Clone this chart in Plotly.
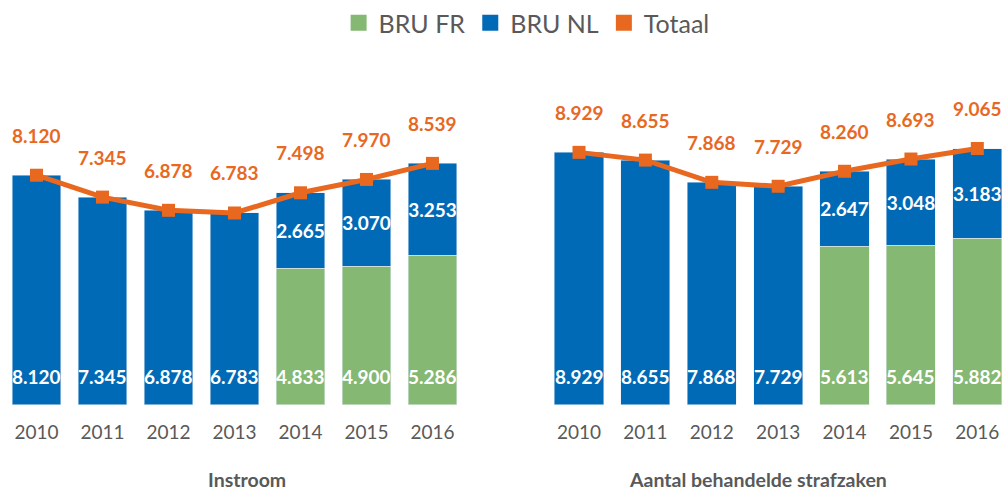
import plotly.graph_objects as go

# ---- data ----
years = ["2010", "2011", "2012", "2013", "2014", "2015", "2016"]

# Instroom
instroom_bru = [8120, 7345, 6878, 6783, None, None, None]   # not split by language
instroom_fr = [None, None, None, None, 4833, 4900, 5286]
instroom_nl = [None, None, None, None, 2665, 3070, 3253]
instroom_total = [8120, 7345, 6878, 6783, 7498, 7970, 8539]

# Aantal behandelde strafzaken
behandeld_bru = [8929, 8655, 7868, 7729, None, None, None]
behandeld_fr = [None, None, None, None, 5613, 5645, 5882]
behandeld_nl = [None, None, None, None, 2647, 3048, 3183]
behandeld_total = [8929, 8655, 7868, 7729, 8260, 8693, 9065]

panel_titles = ["Instroom", "Aantal behandelde strafzaken"]
legend_names = ["BRU FR", "BRU NL", "Totaal"]

# ---- style ----
GREEN = "#84B873"
BLUE = "#006AB6"
ORANGE = "#E8681F"
GREY = "#595959"
FONT = "Lato"


def fmt(v):
    return f"{v:,}".replace(",", ".")


fig = go.Figure()
annotations = []

panels = [
    ("x", "y", instroom_bru, instroom_fr, instroom_nl, instroom_total),
    ("x2", "y2", behandeld_bru, behandeld_fr, behandeld_nl, behandeld_total),
]

for xa, ya, bru, fr, nl, tot in panels:
    fig.add_trace(go.Bar(x=years, y=bru, marker_color=BLUE, showlegend=False,
                         xaxis=xa, yaxis=ya, hoverinfo="skip"))
    fig.add_trace(go.Bar(x=years, y=fr, marker_color=GREEN, showlegend=False,
                         xaxis=xa, yaxis=ya, hoverinfo="skip"))
    fig.add_trace(go.Bar(
        x=years, y=nl, marker_color=BLUE, showlegend=False, xaxis=xa, yaxis=ya,
        text=[f"<b>{fmt(v)}</b>" if v is not None else "" for v in nl],
        textposition="inside", insidetextanchor="middle", constraintext="none",
        textangle=0,
        textfont=dict(family=FONT, size=19, color="white"), hoverinfo="skip"))
    fig.add_trace(go.Scatter(
        x=years, y=tot, mode="lines+markers", showlegend=False, xaxis=xa, yaxis=ya,
        line=dict(color=ORANGE, width=5),
        marker=dict(symbol="square", size=13, color=ORANGE), cliponaxis=False))

    # base labels (bottom segment of each bar); x given as category index
    for i, (b, f) in enumerate(zip(bru, fr)):
        v = b if b is not None else f
        annotations.append(dict(
            x=i, y=0, xref=xa, yref=ya, text=f"<b>{fmt(v)}</b>", showarrow=False,
            xanchor="center", yanchor="middle", yshift=28,
            font=dict(family=FONT, size=19, color="white")))
    # total labels above the line
    for i, t in enumerate(tot):
        annotations.append(dict(
            x=i, y=t, xref=xa, yref=ya, text=f"<b>{fmt(t)}</b>", showarrow=False,
            xanchor="center", yanchor="middle", yshift=40,
            font=dict(family=FONT, size=19, color=ORANGE)))

# legend entries
for name, col in zip(legend_names, [GREEN, BLUE, ORANGE]):
    fig.add_trace(go.Scatter(x=[None], y=[None], mode="markers", name=name,
                             marker=dict(symbol="square", size=16, color=col)))

# panel titles
for title, xc in zip(panel_titles, [0.2458, 0.7542]):
    annotations.append(dict(
        x=xc, y=0.0244, xref="paper", yref="paper", text=f"<b>{title}</b>",
        showarrow=False, xanchor="center", yanchor="middle",
        font=dict(family=FONT, size=19.5, color=GREY)))

xcommon = dict(type="category", showgrid=False, zeroline=False, showline=False,
               ticks="", ticklabelstandoff=14,
               tickfont=dict(family=FONT, size=19, color=GREY))
ycommon = dict(visible=False, range=[0, 10000], domain=[0.1766, 0.7544])

fig.update_layout(
    width=1005, height=491,
    margin=dict(l=0, r=0, t=0, b=0),
    paper_bgcolor="white", plot_bgcolor="white",
    barmode="stack", bargap=0.26,
    xaxis=dict(domain=[0.0035, 0.4632], range=[-0.5, 6.5], **xcommon),
    xaxis2=dict(domain=[0.5431, 1.0], range=[-0.5, 6.417], anchor="y2", **xcommon),
    yaxis=dict(anchor="x", **ycommon),
    yaxis2=dict(anchor="x2", **ycommon),
    legend=dict(orientation="h", traceorder="normal",
                x=0.524, xanchor="center", y=1.005, yanchor="top",
                font=dict(family=FONT, size=25, color=GREY),
                itemclick=False, itemdoubleclick=False),
    annotations=annotations,
    showlegend=True,
)

fig.write_html("out.html")
